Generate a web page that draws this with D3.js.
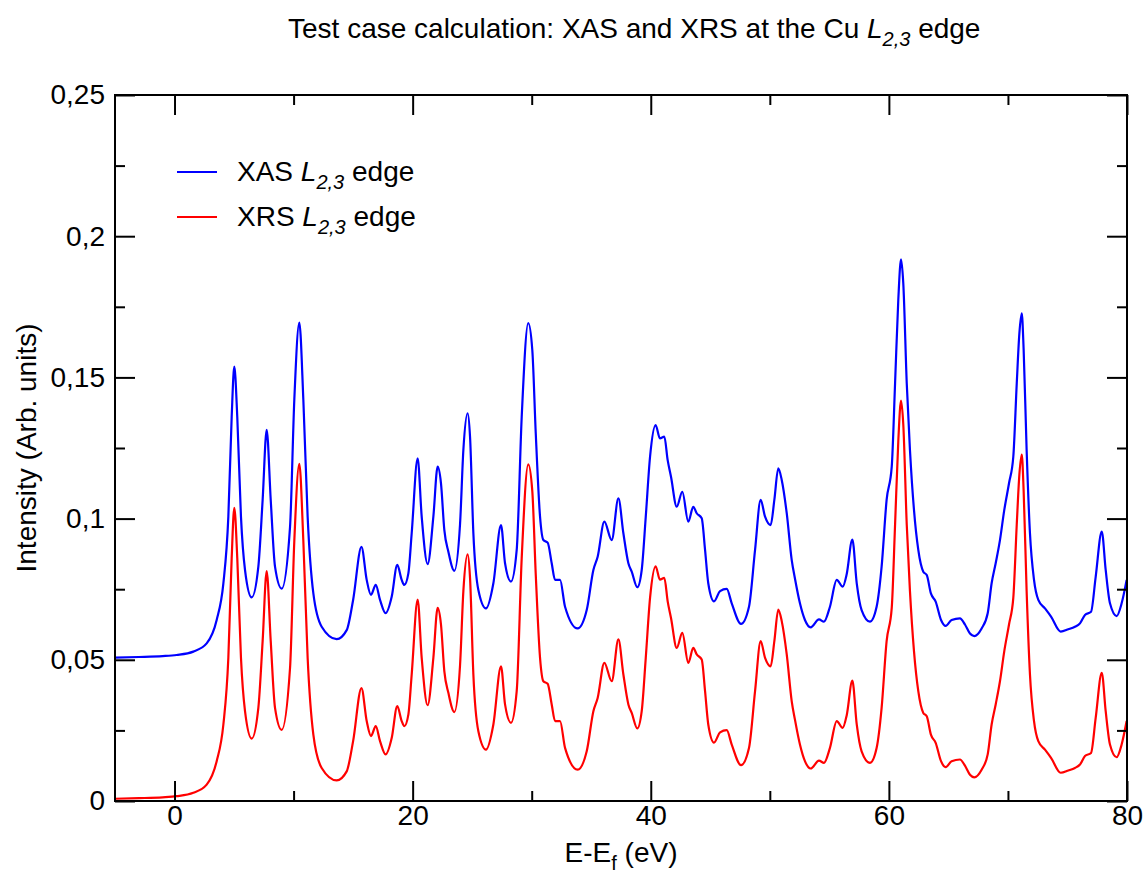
<!DOCTYPE html>
<html>
<head>
<meta charset="utf-8">
<script src="https://cdn.jsdelivr.net/npm/d3@7"></script>
<style>
  body { margin: 0; background: #fff; }
  svg { font-family: "Liberation Sans", Arial, sans-serif; }
</style>
</head>
<body>
<div id="chart"></div>
<script>
// energies (eV), shared by both spectra
const energy = [-5.0, -3.0, -1.0, 0.18, 1.58, 2.7, 3.54, 4.1, 4.52, 4.8, 5.02, 5.27, 5.58, 5.92, 6.48, 7.04, 7.4, 7.74, 8.08, 8.44,
  9.0, 9.7, 10.06, 10.48, 10.82, 11.18, 11.66, 12.36, 13.62, 14.46, 15.0, 15.7, 16.14, 16.5, 16.9, 17.26, 17.73, 18.24, 18.71, 19.08,
  19.3, 19.64, 19.92, 20.42, 20.76, 21.26, 21.74, 22.1, 22.38, 22.66, 23.0, 23.5, 23.98, 24.26, 24.62, 24.82, 25.1, 25.52, 26.16, 26.78,
  27.42, 27.76, 28.26, 28.74, 29.16, 29.71, 30.05, 30.34, 30.7, 30.98, 31.34, 31.68, 31.96, 32.38, 32.8, 33.86, 34.62, 35.18, 35.54, 36.1,
  36.72, 37.28, 37.7, 38.12, 38.4, 38.87, 39.24, 39.58, 39.94, 40.41, 40.77, 41.14, 41.42, 41.7, 42.18, 42.65, 43.15, 43.57, 43.86, 44.28,
  44.56, 44.83, 45.31, 45.82, 46.38, 46.8, 47.58, 48.25, 48.76, 49.23, 49.6, 50.07, 50.38, 50.71, 51.0, 51.42, 51.84, 52.11, 52.53, 52.95,
  53.43, 54.13, 54.55, 55.05, 55.62, 56.12, 56.46, 56.93, 57.3, 57.71, 58.41, 58.97, 59.39, 59.81, 60.24, 60.52, 60.79, 61.02, 61.21, 61.5,
  61.77, 62.11, 62.47, 62.89, 63.18, 63.53, 63.93, 64.38, 64.77, 65.27, 65.97, 66.39, 66.81, 67.17, 67.79, 68.3, 68.63, 68.97, 69.33, 69.69,
  70.09, 70.45, 70.74, 70.96, 71.16, 71.32, 71.57, 71.85, 72.19, 72.55, 73.11, 73.62, 74.43, 75.07, 75.63, 76.05, 76.47, 76.98, 77.37, 77.88,
  78.21, 78.57, 79.13, 79.55, 79.97];

const xas = [0.0508, 0.0510, 0.0513, 0.0517, 0.0529, 0.0558, 0.0641, 0.0770, 0.1007, 0.1360, 0.1538, 0.1360, 0.1007, 0.0818, 0.0721, 0.0830, 0.1066, 0.1314, 0.1066, 0.0830,
  0.0752, 0.0970, 0.1420, 0.1694, 0.1420, 0.1007, 0.0735, 0.0617, 0.0573, 0.0605, 0.0712, 0.0900, 0.0783, 0.0730, 0.0765, 0.0712, 0.0665, 0.0723, 0.0836, 0.0783,
  0.0765, 0.0806, 0.0948, 0.1213, 0.1007, 0.0839, 0.1007, 0.1184, 0.1125, 0.0960, 0.0883, 0.0815, 0.0980, 0.1243, 0.1373, 0.1290, 0.0948, 0.0747, 0.0682, 0.0771,
  0.0977, 0.0842, 0.0777, 0.0889, 0.1360, 0.1692, 0.1597, 0.1302, 0.1007, 0.0924, 0.0915, 0.0842, 0.0783, 0.0783, 0.0688, 0.0611, 0.0676, 0.0818, 0.0865, 0.0989,
  0.0924, 0.1072, 0.0948, 0.0842, 0.0812, 0.0757, 0.0818, 0.1007, 0.1219, 0.1331, 0.1284, 0.1290, 0.1207, 0.1148, 0.1042, 0.1095, 0.0989, 0.1042, 0.1019, 0.1001,
  0.0889, 0.0771, 0.0707, 0.0743, 0.0751, 0.0700, 0.0627, 0.0688, 0.0889, 0.1066, 0.1007, 0.0977, 0.1066, 0.1178, 0.1137, 0.1019, 0.0853, 0.0788, 0.0700, 0.0641,
  0.0615, 0.0643, 0.0635, 0.0688, 0.0783, 0.0759, 0.0804, 0.0926, 0.0771, 0.0676, 0.0635, 0.0688, 0.0830, 0.1066, 0.1184, 0.1479, 0.1774, 0.1918, 0.1833, 0.1479,
  0.1243, 0.1030, 0.0889, 0.0812, 0.0800, 0.0735, 0.0706, 0.0641, 0.0620, 0.0641, 0.0647, 0.0625, 0.0593, 0.0584, 0.0611, 0.0665, 0.0771, 0.0842, 0.0924, 0.1030,
  0.1125, 0.1219, 0.1479, 0.1656, 0.1727, 0.1597, 0.1243, 0.0948, 0.0783, 0.0712, 0.0682, 0.0653, 0.0600, 0.0608, 0.0617, 0.0629, 0.0659, 0.0670, 0.0794, 0.0954,
  0.0818, 0.0700, 0.0655, 0.0700, 0.0783];

const xrs = [0.0008, 0.0010, 0.0013, 0.0017, 0.0029, 0.0058, 0.0141, 0.0270, 0.0507, 0.0860, 0.1038, 0.0860, 0.0507, 0.0318, 0.0221, 0.0330, 0.0566, 0.0814, 0.0566, 0.0330,
  0.0252, 0.0470, 0.0920, 0.1194, 0.0920, 0.0507, 0.0235, 0.0117, 0.0073, 0.0105, 0.0212, 0.0400, 0.0283, 0.0230, 0.0265, 0.0212, 0.0165, 0.0223, 0.0336, 0.0283,
  0.0265, 0.0306, 0.0448, 0.0713, 0.0507, 0.0339, 0.0507, 0.0684, 0.0625, 0.0460, 0.0383, 0.0315, 0.0480, 0.0743, 0.0873, 0.0790, 0.0448, 0.0247, 0.0182, 0.0271,
  0.0477, 0.0342, 0.0277, 0.0389, 0.0860, 0.1192, 0.1097, 0.0802, 0.0507, 0.0424, 0.0415, 0.0342, 0.0283, 0.0283, 0.0188, 0.0111, 0.0176, 0.0318, 0.0365, 0.0489,
  0.0424, 0.0572, 0.0448, 0.0342, 0.0312, 0.0257, 0.0318, 0.0507, 0.0719, 0.0831, 0.0784, 0.0790, 0.0707, 0.0648, 0.0542, 0.0595, 0.0489, 0.0542, 0.0519, 0.0501,
  0.0389, 0.0271, 0.0207, 0.0243, 0.0251, 0.0200, 0.0127, 0.0188, 0.0389, 0.0566, 0.0507, 0.0477, 0.0566, 0.0678, 0.0637, 0.0519, 0.0353, 0.0288, 0.0200, 0.0141,
  0.0115, 0.0143, 0.0135, 0.0188, 0.0283, 0.0259, 0.0304, 0.0426, 0.0271, 0.0176, 0.0135, 0.0188, 0.0330, 0.0566, 0.0684, 0.0979, 0.1274, 0.1418, 0.1333, 0.0979,
  0.0743, 0.0530, 0.0389, 0.0312, 0.0300, 0.0235, 0.0206, 0.0141, 0.0120, 0.0141, 0.0147, 0.0125, 0.0093, 0.0084, 0.0111, 0.0165, 0.0271, 0.0342, 0.0424, 0.0530,
  0.0625, 0.0719, 0.0979, 0.1156, 0.1227, 0.1097, 0.0743, 0.0448, 0.0283, 0.0212, 0.0182, 0.0153, 0.0100, 0.0108, 0.0117, 0.0129, 0.0159, 0.0170, 0.0294, 0.0454,
  0.0318, 0.0200, 0.0155, 0.0200, 0.0283];

const xMajor = [0, 20, 40, 60, 80];
const xMinor = [10, 30, 50, 70];
const yMajor = [0, 0.05, 0.1, 0.15, 0.2, 0.25];
const yMinor = [0.025, 0.075, 0.125, 0.175, 0.225];

const seriesNames = ['XAS', 'XRS'];
const seriesColors = ['#0000ff', '#ff0000'];

const width = 1145, height = 876;
const margin = {top: 95, right: 18, bottom: 75, left: 115};
const w = width - margin.left - margin.right;
const h = height - margin.top - margin.bottom;
const fs = 28, subFs = 20;

const svg = d3.select('#chart').append('svg')
  .attr('width', width)
  .attr('height', height);

const x = d3.scaleLinear().domain([-5, 80]).range([0, w]);
const y = d3.scaleLinear().domain([0, 0.25]).range([h, 0]);

const comma = d3.formatLocale({decimal: ',', thousands: '.', grouping: [3], currency: ['', '']}).format('~g');

const g = svg.append('g').attr('transform', `translate(${margin.left},${margin.top})`);

// curves
const line = d3.line().x((d, i) => x(energy[i])).y(d => y(d)).curve(d3.curveMonotoneX);
[xas, xrs].forEach((vals, k) => {
  g.append('path')
    .attr('d', line(vals))
    .attr('fill', 'none')
    .attr('stroke', seriesColors[k])
    .attr('stroke-width', 2.2)
    .attr('stroke-linejoin', 'round');
});

// axes, ticks inward on all four sides
const tickStyle = sel => {
  sel.select('.domain').remove();
  sel.selectAll('line').attr('stroke', '#000').attr('stroke-width', 2);
  sel.selectAll('text').attr('font-size', fs).attr('fill', '#000');
};

g.append('g').attr('transform', `translate(0,${h})`)
  .call(d3.axisBottom(x).tickValues(xMajor).tickSize(-20).tickPadding(4).tickFormat(d3.format('d')))
  .call(tickStyle);
g.append('g').attr('transform', `translate(0,${h})`)
  .call(d3.axisBottom(x).tickValues(xMinor).tickSize(-10).tickFormat(''))
  .call(tickStyle);
g.append('g')
  .call(d3.axisTop(x).tickValues(xMajor).tickSize(-20).tickFormat(''))
  .call(tickStyle);
g.append('g')
  .call(d3.axisTop(x).tickValues(xMinor).tickSize(-10).tickFormat(''))
  .call(tickStyle);

g.append('g')
  .call(d3.axisLeft(y).tickValues(yMajor).tickSize(-20).tickPadding(10).tickFormat(comma))
  .call(tickStyle);
g.append('g')
  .call(d3.axisLeft(y).tickValues(yMinor).tickSize(-10).tickFormat(''))
  .call(tickStyle);
g.append('g').attr('transform', `translate(${w},0)`)
  .call(d3.axisRight(y).tickValues(yMajor).tickSize(-20).tickFormat(''))
  .call(tickStyle);
g.append('g').attr('transform', `translate(${w},0)`)
  .call(d3.axisRight(y).tickValues(yMinor).tickSize(-10).tickFormat(''))
  .call(tickStyle);

g.append('rect')
  .attr('width', w).attr('height', h)
  .attr('fill', 'none').attr('stroke', '#000').attr('stroke-width', 2);

// title
const title = svg.append('text')
  .attr('x', 288).attr('y', 38)
  .attr('font-size', fs).attr('fill', '#000');
title.append('tspan').text('Test case calculation: XAS and XRS at the Cu ');
title.append('tspan').attr('font-style', 'italic').text('L');
title.append('tspan').attr('font-style', 'italic').attr('font-size', subFs).attr('dy', 8).text('2,3');
title.append('tspan').attr('dy', -8).text(' edge');

// axis titles
const xl = svg.append('text')
  .attr('x', margin.left + w / 2).attr('y', 862)
  .attr('text-anchor', 'middle').attr('font-size', fs).attr('fill', '#000');
xl.append('tspan').text('E-E');
xl.append('tspan').attr('font-size', subFs).attr('dy', 8).text('f');
xl.append('tspan').attr('dy', -8).text(' (eV)');

svg.append('text')
  .attr('transform', `translate(36,${margin.top + h / 2}) rotate(-90)`)
  .attr('text-anchor', 'middle').attr('font-size', fs).attr('fill', '#000')
  .text('Intensity (Arb. units)');

// legend
seriesNames.forEach((name, k) => {
  const ly = 172 + k * 45;
  svg.append('line')
    .attr('x1', 177).attr('x2', 217).attr('y1', ly).attr('y2', ly)
    .attr('stroke', seriesColors[k]).attr('stroke-width', 2.2);
  const t = svg.append('text')
    .attr('x', 237).attr('y', ly + 9)
    .attr('font-size', fs).attr('fill', '#000');
  t.append('tspan').text(name + ' ');
  t.append('tspan').attr('font-style', 'italic').text('L');
  t.append('tspan').attr('font-style', 'italic').attr('font-size', subFs).attr('dy', 8).text('2,3');
  t.append('tspan').attr('dy', -8).text(' edge');
});
</script>
</body>
</html>
